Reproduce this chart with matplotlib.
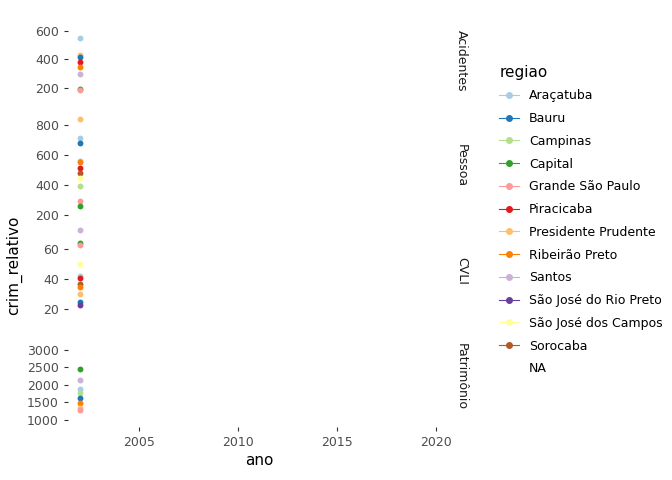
import matplotlib
matplotlib.use("Agg")
import matplotlib.pyplot as plt
from matplotlib.lines import Line2D

regions = ["Araçatuba", "Bauru", "Campinas", "Capital", "Grande São Paulo", "Piracicaba",
           "Presidente Prudente", "Ribeirão Preto", "Santos", "São José do Rio Preto",
           "São José dos Campos", "Sorocaba", "NA"]
colors = ["#A6CEE3", "#1F78B4", "#B2DF8A", "#33A02C", "#FB9A99", "#E31A1C",
          "#FDBF6F", "#FF7F00", "#CAB2D6", "#6A3D9A", "#FFFF99", "#B15928", None]
year = 2002
panels = ["Acidentes", "Pessoa", "CVLI", "Patrimônio"]
acidentes = {"Araçatuba": 550, "Presidente Prudente": 430, "Bauru": 415, "Piracicaba": 385,
             "Ribeirão Preto": 345, "Santos": 300, "Capital": 195, "Grande São Paulo": 185}
pessoa = {"Presidente Prudente": 840, "Araçatuba": 715, "Bauru": 680, "Santos": 560,
          "Ribeirão Preto": 550, "Piracicaba": 510, "Sorocaba": 478, "São José dos Campos": 445,
          "Campinas": 393, "Grande São Paulo": 290, "Capital": 262}
cvli = {"Santos": 73, "Capital": 64, "Grande São Paulo": 63, "São José dos Campos": 50,
        "Araçatuba": 42, "Piracicaba": 41, "Sorocaba": 37, "Ribeirão Preto": 35,
        "Presidente Prudente": 30, "Bauru": 25, "São José do Rio Preto": 23}
patrimonio = {"Capital": 2470, "Santos": 2150, "Araçatuba": 1880, "Campinas": 1770,
              "Bauru": 1630, "Ribeirão Preto": 1480, "Presidente Prudente": 1330,
              "Grande São Paulo": 1280}
data = [acidentes, pessoa, cvli, patrimonio]
yticks = [[200, 400, 600], [200, 400, 600, 800], [20, 40, 60], [1000, 1500, 2000, 2500, 3000]]
ylims = [(42, 747), (193, 863), (11.7, 78.7), (800, 3671)]

cmap = dict(zip(regions, colors))
fig = plt.figure(figsize=(6.72, 4.8), dpi=100)
grey = "#4D4D4D"
top, bot, gap = 1 - 10/480, 1 - 427/480, 5/480
h = (top - bot - 3*gap) / 4
for i, (name, d) in enumerate(zip(panels, data)):
    ax = fig.add_axes([68/672, top - (i+1)*h - i*gap, (450-68)/672, h])
    for r, v in d.items():
        ax.scatter([year], [v], color=cmap[r], s=18, zorder=3, linewidths=0)
    ax.set_xlim(2001.4, 2020.7)
    ax.set_yticks(yticks[i])
    ax.set_ylim(*ylims[i])
    for s in ax.spines.values():
        s.set_visible(False)
    ax.tick_params(axis="y", colors="#333333", labelcolor=grey, labelsize=9, length=3)
    if i < 3:
        ax.tick_params(axis="x", bottom=False, labelbottom=False)
    else:
        ax.set_xticks([2005, 2010, 2015, 2020])
        ax.tick_params(axis="x", colors="#333333", labelcolor=grey, labelsize=9, length=3)
        ax.set_xlabel("ano", fontsize=11, color="black", labelpad=3)
    ax.text(1.03, 0.5, name, transform=ax.transAxes, rotation=-90, va="center", ha="center",
            fontsize=9, color="#1A1A1A")
fig.text(14/672, 1 - 265/480, "crim_relativo", rotation=90, va="center", ha="center", fontsize=11)

handles = [Line2D([0], [0], marker="o", color=c if c else "none", markerfacecolor=c if c else "none",
                  markersize=4, lw=0.8) for c in colors]
fig.legend(handles, regions, title="regiao", loc="center left", bbox_to_anchor=(488/672, 1 - 220/480),
           frameon=False, fontsize=9, title_fontsize=11, handlelength=1.6, labelspacing=0.78,
           alignment="left")
fig.savefig("out.png", dpi=100)
